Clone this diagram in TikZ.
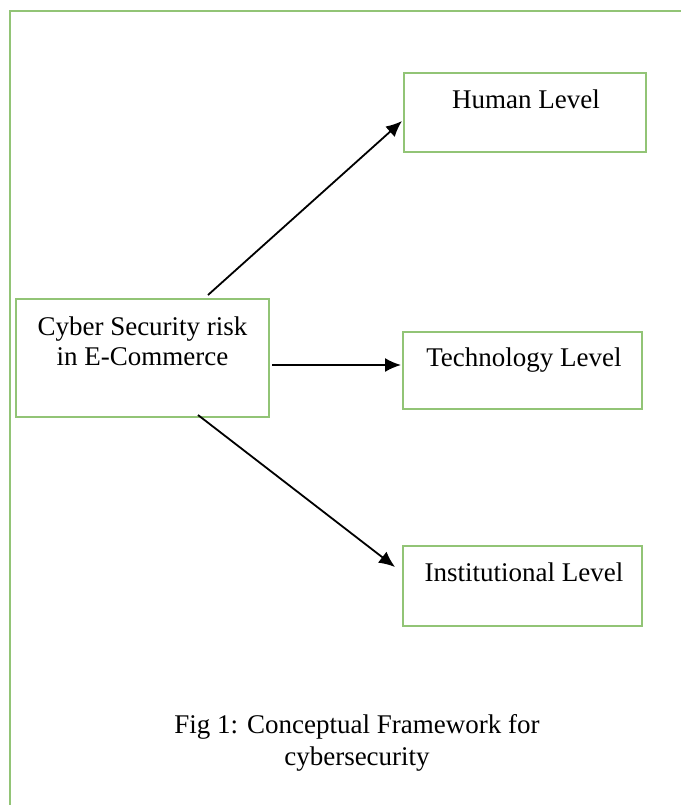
\documentclass[tikz,border=0pt]{standalone}
\usepackage{fontspec}
\setmainfont{Liberation Serif}
\usetikzlibrary{arrows.meta}
\definecolor{framegreen}{RGB}{146,196,118}

\begin{document}
\begin{tikzpicture}[x=0.5pt,y=-0.5pt,
	box/.style={draw=framegreen,line width=1pt,inner sep=0pt,outer sep=0pt},
	lbl/.style={font=\fontsize{13.5}{15}\selectfont,text height=0.7em,text depth=0.25em,inner sep=0pt},
	arr/.style={-{Latex[length=8pt,width=7pt]},line width=0.9pt}]
	
	\clip (0,0) rectangle (681,805);
	\draw[framegreen,line width=1pt] (700,11) -- (9.5,11) -- (9.5,820);
	
	\node[box,minimum width=126.5pt,minimum height=59pt] (risk) at (142.5,358) {};
	\node[box,minimum width=121pt,minimum height=39.5pt] (human) at (525,112.5) {};
	\node[box,minimum width=119.5pt,minimum height=38.5pt] (tech) at (522.5,370.5) {};
	\node[box,minimum width=119.5pt,minimum height=40pt] (inst) at (522.5,586) {};
	
	\node[font=\fontsize{13.5}{15}\selectfont,align=center,inner sep=0pt] (risk-txt) at (142.5,341) {Cyber Security risk\\in E-Commerce};
	\node[lbl] (human-txt) at (526,104) {Human Level};
	\node[lbl] (tech-txt) at (524,362) {Technology Level};
	\node[lbl] (inst-txt) at (524,577) {Institutional Level};
	
	\coordinate (a1) at (208,295);
	\coordinate (b1) at (402,121);
	\coordinate (a2) at (272,365);
	\coordinate (b2) at (401,365);
	\coordinate (a3) at (198,415);
	\coordinate (b3) at (395,567);
	\draw[arr] (a1) -- (b1);
	\draw[arr] (a2) -- (b2);
	\draw[arr] (a3) -- (b3);
	
	\node[font=\fontsize{13.5}{16}\selectfont,align=center,inner sep=0pt] (caption) at (357,743) {Fig 1: Conceptual Framework for\\cybersecurity};
	
\end{tikzpicture}
\end{document}
